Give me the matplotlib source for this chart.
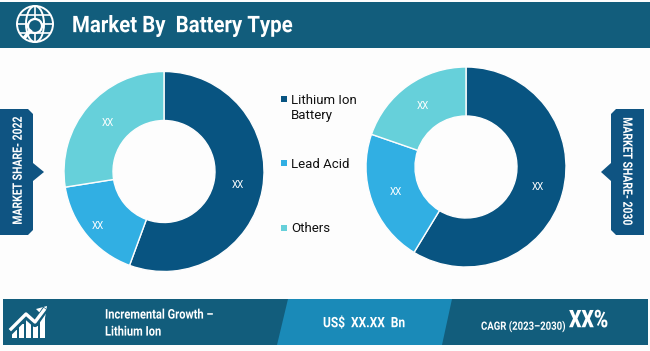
import matplotlib
matplotlib.use('Agg')
import matplotlib.pyplot as plt
import numpy as np
from matplotlib.patches import Polygon, Rectangle, Circle, Ellipse
from matplotlib.patheffects import AbstractPathEffect
from matplotlib.transforms import Affine2D

# Data
categories = ['Lithium Ion\nBattery', 'Lead Acid', 'Others']
share_2022 = [55.6, 16.9, 27.5]
share_2030 = [58.7, 21.6, 19.7]
value_labels = ['XX', 'XX', 'XX']
label_radius_2022 = [0.75, 0.86, 0.74]
label_radius_2030 = [0.75, 0.75, 0.75]
colors = ['#085481', '#31AFE3', '#66D0DA']

W, H = 650, 351

fig = plt.figure(figsize=(W / 100, H / 100), dpi=100, facecolor='#FDFDFD')
bg = fig.add_axes([0, 0, 1, 1])
bg.set_xlim(0, W)
bg.set_ylim(H, 0)
bg.axis('off')

TEAL = '#125D7C'
MID = '#1A8AB8'
TAG = '#0F5482'


class Stretch(AbstractPathEffect):
    """Stretch a text about its anchor, to imitate a condensed face."""
    def __init__(self, xy, sx=1.0, sy=1.0):
        super().__init__()
        self.xy, self.sx, self.sy = xy, sx, sy

    def draw_path(self, renderer, gc, tpath, affine, rgbFace=None):
        px, py = bg.transData.transform(self.xy)
        extra = Affine2D().translate(-px, -py).scale(self.sx, self.sy).translate(px, py)
        renderer.draw_path(gc, tpath, affine + extra, rgbFace)


def tall(x, y, s, size, sy=1.0, sx=1.0, weight='bold', family='Roboto', **kw):
    t = bg.text(x, y, s, color='white', fontsize=size, fontweight=weight, family=family,
                va='center', **kw)
    t.set_path_effects([Stretch((x, y), sx=sx, sy=sy)])
    return t


# header
bg.add_patch(Rectangle((0, 2), W, 46, fc=TEAL, ec='none'))
tall(72, 26, 'Market By  Battery Type', 14.7, sy=1.12, ha='left')
g = dict(fc='none', ec='white', lw=1.4)
bg.add_patch(Circle((35, 24), 18, **g))
bg.add_patch(Ellipse((35, 24), 18, 36, **g))
for yy, half in [(15, 15), (33, 15), (24, 18)]:
    bg.plot([35 - half, 35 + half], [yy, yy], color='white', lw=1.2)
bg.plot([35, 35], [6, 42], color='white', lw=1.2)
bg.add_patch(Circle((35, 26), 7, fc=TEAL, ec='white', lw=1.6, zorder=3))
bg.plot([30, 25], [31, 37], color='white', lw=2.6, zorder=3)

# footer
bg.add_patch(Rectangle((3, 299), 645, 46, fc=TEAL, ec='none'))
bg.add_patch(Polygon([(288, 299), (452, 299), (442, 345), (277, 345)], fc=MID, ec='none'))
tall(105, 315, 'Incremental Growth \u2013', 8, sy=1.2, ha='left')
tall(105, 332, 'Lithium Ion', 8, sy=1.2, ha='left')
tall(323, 323, 'US$  XX.XX  Bn', 8.6, sy=1.2, ha='left')
tall(481, 326, 'CAGR (2023\u20132030)', 6.9, sy=1.2, ha='left')
tall(569, 321, 'XX%', 14, sy=1.25, ha='left', weight='heavy')
# growth icon
for x, top in zip([12, 19, 26, 33, 40], [330, 324, 320, 326, 316]):
    bg.add_patch(Rectangle((x, top), 5, 338 - top, fc='white', ec='none'))
bg.plot([11, 26, 35, 44], [331, 316, 324, 311], color=TEAL, lw=4.5)
bg.plot([11, 26, 35, 44], [329, 314, 322, 310], color='white', lw=2.4)
bg.add_patch(Polygon([(47, 306), (36, 309), (45, 318)], fc='white', ec='none'))

# side tags
bg.add_patch(Polygon([(0, 109), (28, 109), (33, 114), (33, 163), (44, 172), (33, 181),
                      (33, 230), (28, 235), (0, 235)], fc=TAG, ec='none'))
bg.add_patch(Polygon([(644, 109), (616, 109), (611, 114), (611, 163), (601, 172), (611, 181),
                      (611, 230), (616, 235), (644, 235)], fc=TAG, ec='none'))
tall(18, 171, 'MARKET SHARE- 2022', 7.5, sx=1.25, rotation=90, ha='center')
tall(627, 171, 'MARKET SHARE- 2030', 7.5, sx=1.25, rotation=270, ha='center')

# legend
for cat, col, y_mark, y_txt in zip(categories, colors, [99, 163, 228], [108, 164, 229]):
    bg.add_patch(Rectangle((281, y_mark - 3), 6, 6, fc=col, ec='none'))
    bg.text(291, y_txt, cat, color='#111111', fontsize=9.5, family='Roboto',
            va='center', ha='left', linespacing=1.3)

# donuts
for vals, radii, cx, cy in [(share_2022, label_radius_2022, 164, 171.5),
                            (share_2030, label_radius_2030, 466, 167)]:
    pad = 105
    ax = fig.add_axes([(cx - pad) / W, 1 - (cy + pad) / H, 2 * pad / W, 2 * pad / H])
    wedges, _ = ax.pie(vals, colors=colors, startangle=90, counterclock=False, radius=1,
                       wedgeprops=dict(width=0.49, edgecolor='#FDFDFD', linewidth=1))
    ax.set_xlim(-1.05, 1.05)
    ax.set_ylim(-1.05, 1.05)
    for w, lab, r in zip(wedges, value_labels, radii):
        a = np.deg2rad((w.theta1 + w.theta2) / 2)
        ax.text(r * np.cos(a), r * np.sin(a), lab, color='white', fontsize=7,
                family='Roboto', ha='center', va='center')

fig.savefig('out.png', dpi=100, facecolor=fig.get_facecolor())
